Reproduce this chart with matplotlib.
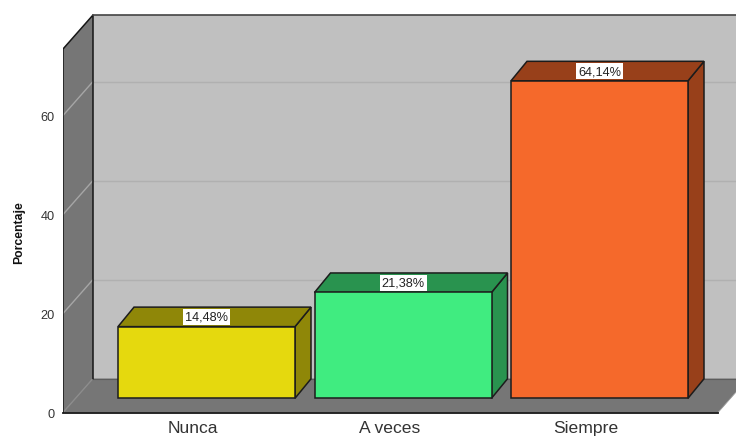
import matplotlib
matplotlib.use("Agg")
import matplotlib.pyplot as plt
from matplotlib.patches import Polygon

categories = ["Nunca", "A veces", "Siempre"]
values = [14.48, 21.38, 64.14]
value_labels = ["14,48%", "21,38%", "64,14%"]
yticks = [0, 20, 40, 60]
front_colors = ["#e5d90e", "#40ec80", "#f5692b"]
side_colors = ["#8f8708", "#29934f", "#98401a"]

W, H = 736, 439
PXY = 4.95          # pixels per percentage unit
PXX = 196.5         # pixels per category
X0, Y0 = 206.5, 413.5  # pixel of category 0 centre, pixel of value 0

fig = plt.figure(figsize=(W / 100, H / 100), dpi=100)
plt.rcParams["font.family"] = ["Liberation Sans", "DejaVu Sans"]
ax = fig.add_axes([63 / W, (H - Y0) / H, (W - 63) / W, (Y0 - 10) / H])
ax.set_xlim((63 - X0) / PXX, (W - X0) / PXX)
ax.set_ylim(0, (Y0 - 10) / PXY)
for s in ax.spines.values():
    s.set_visible(False)
ax.patch.set_alpha(0)

dxw, dyw = 30 / PXX, 34 / PXY      # wall depth
dxb, dyb = 16 / PXX, 19.5 / PXY    # bar depth
xl = (63 - X0) / PXX
xr = (718 - X0) / PXX
xfar = (790 - X0) / PXX
ytop = (Y0 - 50) / PXY
base = 14.2 / PXY
half = 88.5 / PXX

wall = "#767676"
# back wall, floor, side wall
ax.add_patch(Polygon([(xl + dxw, dyw), (xfar, dyw), (xfar, ytop + dyw), (xl + dxw, ytop + dyw)],
                     fc="#c0c0c0", ec="none", zorder=1))
ax.add_patch(Polygon([(xl, 0), (xr, 0), (xr + dxw, dyw), (xl + dxw, dyw)],
                     fc=wall, ec="none", zorder=1, clip_on=False))
ax.add_patch(Polygon([(xl, 0), (xl + dxw, dyw), (xl + dxw, ytop + dyw), (xl, ytop)],
                     fc=wall, ec="none", zorder=1))

# gridlines on back and side walls
for t in yticks:
    col = "#b0b0b0" if t else "#8c8c8c"
    if t:
        ax.plot([xl + dxw, xfar], [t + dyw, t + dyw], color=col, lw=1, zorder=2)
    ax.plot([xl, xl + dxw], [t, t + dyw], color="#a6a6a6" if t else "#8c8c8c", lw=1, zorder=2)

# wall outlines
k = "#161616"
ax.plot([xl, xl, xl + dxw, xl + dxw, xl + dxw], [0, ytop, ytop + dyw, ytop + dyw, dyw], color=k, lw=1.1, zorder=3)
ax.plot([xl + dxw, xfar], [ytop + dyw, ytop + dyw], color="#444444", lw=1.2, zorder=3)
ax.plot([xl + dxw, xfar], [dyw, dyw], color="#5c5c5c", lw=0.8, zorder=2)
ax.plot([xl, xr], [0, 0], color=k, lw=1.3, zorder=3, clip_on=False)
ax.plot([xr, xr + dxw], [0, dyw], color="#9a9a9a", lw=0.6, zorder=2)

# bars
for i, v in enumerate(values):
    l, r = i - half, i + half
    t = base + v
    kw = dict(ec="#1c1c1c", lw=1.1, zorder=4 + i, joinstyle="miter")
    ax.add_patch(Polygon([(r, base), (r + dxb, base + dyb), (r + dxb, t + dyb), (r, t)], fc=side_colors[i], **kw))
    ax.add_patch(Polygon([(l, t), (r, t), (r + dxb, t + dyb), (l + dxb, t + dyb)], fc=side_colors[i], **kw))
    ax.add_patch(Polygon([(l, base), (r, base), (r, t), (l, t)], fc=front_colors[i], **kw))
    ax.text(i + 0.002, t + dyb / 2, value_labels[i], ha="center", va="center", fontsize=9.2,
            color="#222222", zorder=10,
            bbox=dict(boxstyle="square,pad=0.16", fc="white", ec="none"))

ax.set_yticks(yticks)
ax.set_xticks([i - 0.068 for i in range(len(categories))])
ax.set_xticklabels(categories, fontsize=12.6, color="#333333")
ax.tick_params(axis="y", length=0, pad=6, labelsize=9.2, labelcolor="#333333")
ax.tick_params(axis="x", length=0, pad=5.5)
fig.text(19.5 / W, 1 - 232.5 / H, "Porcentaje", rotation=90, ha="center", va="center",
         fontsize=8.8, fontweight="bold", color="#111111")
fig.savefig("out.png", dpi=100)
